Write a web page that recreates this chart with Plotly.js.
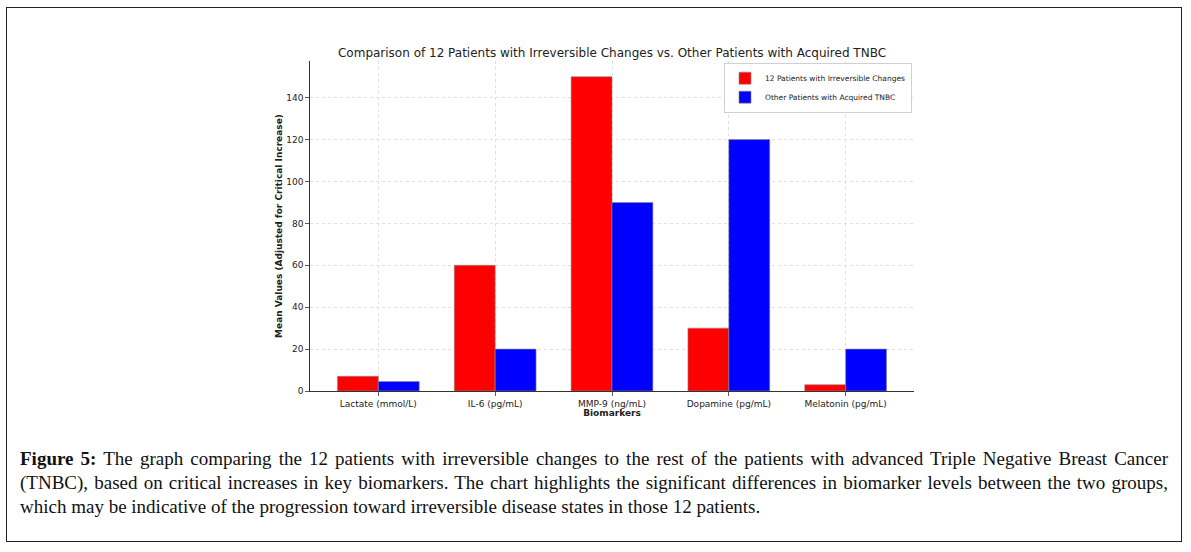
<!DOCTYPE html>
<html>
<head>
<meta charset="utf-8">
<script src="https://cdn.plot.ly/plotly-3.0.1.min.js"></script>
<style>
  html, body { margin:0; padding:0; background:#fff; }
  #wrap { position:relative; width:1191px; height:552px; overflow:hidden; }
  #frame { position:absolute; left:6px; top:7px; width:1174px; height:533px; border:1.5px solid #222; box-sizing:content-box; }
  #chart { position:absolute; left:0; top:0; width:1191px; height:552px; }
  #caption { position:absolute; left:20px; top:447px; width:1148px; font-family:"Liberation Serif","DejaVu Serif",serif; font-size:19px; color:#111; line-height:24px; }
  #caption .l { display:block; text-align:justify; text-align-last:justify; white-space:nowrap; }
  #caption .last { text-align-last:left; }
</style>
</head>
<body>
<div id="wrap">
  <div id="frame"></div>
  <div id="chart"></div>
  <div id="caption">
    <span class="l"><b>Figure 5:</b> The graph comparing the 12 patients with irreversible changes to the rest of the patients with advanced Triple Negative Breast Cancer</span>
    <span class="l">(TNBC), based on critical increases in key biomarkers. The chart highlights the significant differences in biomarker levels between the two groups,</span>
    <span class="l last">which may be indicative of the progression toward irreversible disease states in those 12 patients.</span>
  </div>
</div>
<script>
const categories = ["Lactate (mmol/L)", "IL-6 (pg/mL)", "MMP-9 (ng/mL)", "Dopamine (pg/mL)", "Melatonin (pg/mL)"];
const irreversible = [7, 60, 150, 30, 3];
const otherTNBC = [4.5, 20, 90, 120, 20];
const seriesNames = ["12 Patients with Irreversible Changes", "Other Patients with Acquired TNBC"];
const yTicks = [0, 20, 40, 60, 80, 100, 120, 140];

const font = "DejaVu Sans, sans-serif";
const traces = [
  { type:"bar", x:categories, y:irreversible, name:seriesNames[0],
    marker:{color:"#ff0000", line:{color:"#8a8a8a", width:0.6}} },
  { type:"bar", x:categories, y:otherTNBC, name:seriesNames[1],
    marker:{color:"#0000ff", line:{color:"#8a8a8a", width:0.6}} }
];
const layout = {
  width:1191, height:552,
  paper_bgcolor:"rgba(0,0,0,0)", plot_bgcolor:"rgba(0,0,0,0)",
  margin:{l:310, r:277, t:61, b:161, pad:0},
  barmode:"group", bargap:0.3, bargroupgap:0,
  font:{family:font, color:"#222"},
  title:{text:"Comparison of 12 Patients with Irreversible Changes vs. Other Patients with Acquired TNBC",
         font:{family:font, size:12, color:"#222"}, x:0.5, xref:"paper", xanchor:"center", y:0.905, yref:"container", yanchor:"middle"},
  xaxis:{ type:"category", range:[-0.585, 4.585],
    showgrid:true, gridcolor:"#d8d8d8", griddash:"dot", gridwidth:0.8,
    showline:true, linecolor:"#333", linewidth:1.2,
    ticks:"outside", ticklen:3.5, tickcolor:"#333", tickwidth:0.8,
    tickfont:{family:font, size:9, color:"#222"},
    title:{text:"<b>Biomarkers</b>", font:{family:font, size:9, color:"#222"}, standoff:0},
    zeroline:false },
  yaxis:{ range:[0, 157.5], tickvals:yTicks,
    showgrid:true, gridcolor:"#d8d8d8", griddash:"dot", gridwidth:0.8,
    showline:true, linecolor:"#333", linewidth:1.2,
    ticks:"outside", ticklen:3.5, tickcolor:"#333", tickwidth:0.8,
    tickfont:{family:font, size:9, color:"#222"},
    title:{text:"<b>Mean Values (Adjusted for Critical Increase)</b>", font:{family:font, size:9, color:"#222"}, standoff:2},
    zeroline:false },
  legend:{ x:0.9967, xanchor:"right", y:0.995, yanchor:"top",
    bgcolor:"rgba(255,255,255,0.9)", bordercolor:"#d0d0d0", borderwidth:1,
    font:{family:font, size:7.5, color:"#222"}, tracegroupgap:0, itemwidth:30 },
  showlegend:true
};
Plotly.newPlot("chart", traces, layout, {displayModeBar:false, staticPlot:true});
</script>
</body>
</html>
